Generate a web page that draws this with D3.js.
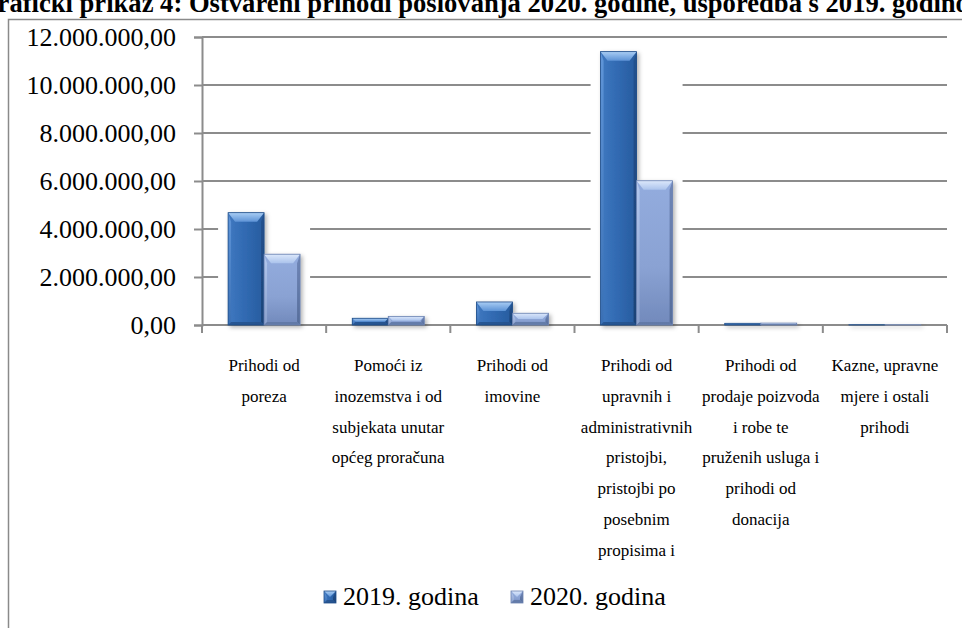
<!DOCTYPE html>
<html>
<head>
<meta charset="utf-8">
<script src="https://cdn.jsdelivr.net/npm/d3@7"></script>
<style>
  html, body { margin: 0; padding: 0; background: #fff; overflow: hidden; }
  svg { display: block; }
  text, tspan { font-family: "Liberation Serif", "Times New Roman", serif; fill: #000; }
</style>
</head>
<body>
<svg id="chart" width="962" height="628"></svg>
<script>
const title = "Grafički prikaz 4: Ostvareni prihodi poslovanja 2020. godine, usporedba s 2019. godinom";
const categories = [
  "Prihodi od poreza",
  "Pomoći iz inozemstva i od subjekata unutar općeg proračuna",
  "Prihodi od imovine",
  "Prihodi od upravnih i administrativnih pristojbi, pristojbi po posebnim propisima i",
  "Prihodi od prodaje poizvoda i robe te pruženih usluga i prihodi od donacija",
  "Kazne, upravne mjere i ostali prihodi"
];
const categoryLines = [
  ["Prihodi od", "poreza"],
  ["Pomoći iz", "inozemstva i od", "subjekata unutar", "općeg proračuna"],
  ["Prihodi od", "imovine"],
  ["Prihodi od", "upravnih i", "administrativnih", "pristojbi,", "pristojbi po", "posebnim", "propisima i"],
  ["Prihodi od", "prodaje poizvoda", "i robe te", "pruženih usluga i", "prihodi od", "donacija"],
  ["Kazne, upravne", "mjere i ostali", "prihodi"]
];
const seriesNames = ["2019. godina", "2020. godina"];
const values2019 = [4680000, 280000, 960000, 11390000, 70000, 10000];
const values2020 = [2950000, 360000, 490000, 6010000, 80000, 10000];
const yTicks = [0, 2000000, 4000000, 6000000, 8000000, 10000000, 12000000];

const SERIF = "'Liberation Serif', 'Times New Roman', serif";
const svg = d3.select("#chart");
const W = 962, H = 628;
const plot = { left: 202, right: 947, top: 37, bottom: 325 };

const locale = d3.formatLocale({ decimal: ",", thousands: ".", grouping: [3], currency: ["", ""] });
const fmt = locale.format(",.2f");

const x = d3.scaleBand().domain(categories).range([plot.left, plot.right]).padding(0);
const xs = d3.scaleBand().domain(seriesNames).range([0, x.bandwidth()]).paddingInner(0).paddingOuter(0.725);
const y = d3.scaleLinear().domain([0, 12000000]).range([plot.bottom, plot.top]);

const defs = svg.append("defs");
function linGrad(id, x1, y1, x2, y2, stops) {
  const g = defs.append("linearGradient").attr("id", id)
    .attr("x1", x1).attr("y1", y1).attr("x2", x2).attr("y2", y2);
  stops.forEach(s => g.append("stop").attr("offset", s[0]).attr("stop-color", s[1]));
}
// 2019 (dark blue)
linGrad("face0", "0", "0", "1", "0", [["0", "#3f78c0"], ["0.5", "#3069b1"], ["1", "#285c9e"]]);
linGrad("top0", "0", "0", "0", "1", [["0", "#a9cdf4"], ["1", "#5d93d6"]]);
linGrad("left0", "0", "0", "0", "1", [["0", "#5f95d8"], ["1", "#3a70b5"]]);
linGrad("right0", "0", "0", "0", "1", [["0", "#24528f"], ["1", "#1c4377"]]);
// 2020 (light blue)
linGrad("face1", "0", "0", "0", "1", [["0", "#93acde"], ["0.6", "#8aa2d3"], ["1", "#7189bb"]]);
linGrad("top1", "0", "0", "0", "1", [["0", "#dce8fb"], ["1", "#abc3ec"]]);
linGrad("left1", "0", "0", "0", "1", [["0", "#b3c8ee"], ["1", "#8aa0cc"]]);
linGrad("right1", "0", "0", "0", "1", [["0", "#6f86b7"], ["1", "#566d9a"]]);

const shadow = defs.append("filter").attr("id", "shadow").attr("x", "-30%").attr("y", "-30%").attr("width", "160%").attr("height", "160%");
shadow.append("feDropShadow").attr("dx", 2).attr("dy", 2).attr("stdDeviation", 2)
  .attr("flood-color", "#000").attr("flood-opacity", 0.3);

// Title (clipped at top, wider than the page as in the reference)
svg.append("text")
  .attr("x", W / 2 + 3).attr("y", 12)
  .attr("text-anchor", "middle")
  .style("font-family", SERIF)
  .style("font-weight", "bold").style("font-size", "26.6px")
  .text(title);

// Frame
svg.append("rect")
  .attr("x", 8.5).attr("y", 19.5).attr("width", W + 20).attr("height", H)
  .attr("fill", "#fff").attr("stroke", "#8a8a8a").attr("stroke-width", 1.5);

// Gridlines
svg.append("g").selectAll("line").data(yTicks).join("line")
  .attr("x1", plot.left).attr("x2", plot.right)
  .attr("y1", d => y(d)).attr("y2", d => y(d))
  .attr("stroke", "#8c8c8c").attr("stroke-width", 2);

// Y axis
const yAxis = svg.append("g").attr("transform", `translate(${plot.left},0)`)
  .call(d3.axisLeft(y).tickValues(yTicks).tickFormat(fmt).tickSize(8).tickPadding(18));
yAxis.attr("font-family", null);
yAxis.select(".domain").attr("stroke", "#8c8c8c").attr("stroke-width", 2);
yAxis.selectAll(".tick line").attr("stroke", "#8c8c8c").attr("stroke-width", 2);
yAxis.selectAll(".tick text")
  .style("font-family", SERIF).style("font-size", "26px").attr("fill", "#000");

// X axis category boundary ticks
const bounds = categories.map(c => x(c)).concat([plot.right]);
svg.append("g").selectAll("line").data(bounds).join("line")
  .attr("x1", d => d).attr("x2", d => d)
  .attr("y1", plot.bottom).attr("y2", plot.bottom + 8)
  .attr("stroke", "#8c8c8c").attr("stroke-width", 2);

// White halos behind bar groups (gridlines break around bars)
const maxVals = categories.map((c, i) => Math.max(values2019[i], values2020[i]));
svg.append("g").selectAll("rect").data(categories).join("rect")
  .attr("x", c => x(c) + xs(seriesNames[0]) - 10)
  .attr("width", xs.bandwidth() * 2 + 20)
  .attr("y", (c, i) => y(maxVals[i]))
  .attr("height", (c, i) => Math.max(0, plot.bottom - 1 - y(maxVals[i])))
  .attr("fill", "#fff");

// Beveled bar
function bevelBar(g, bx, by, bw, bh, s) {
  if (bh <= 0) return;
  const t = Math.min(9, bh / 2);
  const ins = Math.min(7, t);
  const side = Math.min(3, t);
  g.append("rect").attr("x", bx).attr("y", by).attr("width", bw).attr("height", bh).attr("fill", `url(#face${s})`);
  g.append("polygon").attr("points", [[bx, by], [bx + side, by + t], [bx + side, by + bh - side], [bx, by + bh]].join(" "))
    .attr("fill", `url(#left${s})`);
  g.append("polygon").attr("points", [[bx + bw, by], [bx + bw - side, by + t], [bx + bw - side, by + bh - side], [bx + bw, by + bh]].join(" "))
    .attr("fill", `url(#right${s})`);
  g.append("polygon").attr("points", [[bx, by + bh], [bx + side, by + bh - side], [bx + bw - side, by + bh - side], [bx + bw, by + bh]].join(" "))
    .attr("fill", s === 0 ? "#24508a" : "#5e75a3").attr("opacity", 0.8);
  g.append("polygon").attr("points", [[bx, by], [bx + bw, by], [bx + bw - ins, by + t], [bx + ins, by + t]].join(" "))
    .attr("fill", `url(#top${s})`);
  g.append("rect").attr("x", bx).attr("y", by).attr("width", bw).attr("height", bh)
    .attr("fill", "none").attr("stroke", s === 0 ? "#1f4d88" : "#6b82b0").attr("stroke-width", 0.8);
}

const barsG = svg.append("g").attr("filter", "url(#shadow)");
const seriesValues = [values2019, values2020];
categories.forEach((c, i) => {
  seriesNames.forEach((sn, s) => {
    const v = seriesValues[s][i];
    const bx = x(c) + xs(sn);
    const by = y(v);
    const bh = y(0) - y(v);
    bevelBar(barsG.append("g"), bx, by, xs.bandwidth(), bh, s);
  });
});

// Category labels
const lab = svg.append("g");
categories.forEach((c, i) => {
  const cx = x(c) + x.bandwidth() / 2;
  categoryLines[i].forEach((ln, k) => {
    lab.append("text")
      .attr("x", cx).attr("y", 371 + k * 30.8)
      .attr("text-anchor", "middle")
      .style("font-family", SERIF)
      .style("font-size", "17px")
      .text(ln);
  });
});

// Legend
const legendX = [324, 511];
const leg = svg.append("g");
seriesNames.forEach((sn, s) => {
  const lg = leg.append("g");
  bevelBar(lg, legendX[s], 591, 12, 12, s);
  lg.append("text").attr("x", legendX[s] + 19).attr("y", 605)
    .style("font-family", SERIF)
    .style("font-size", "26px").text(sn);
});
</script>
</body>
</html>
